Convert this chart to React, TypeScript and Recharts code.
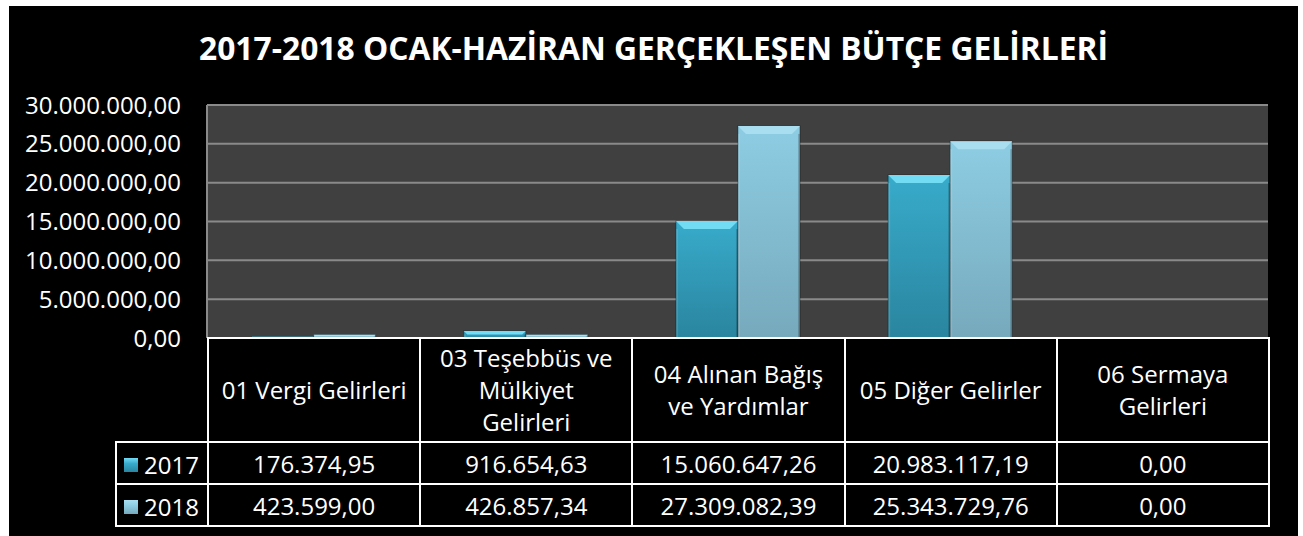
import React from 'react';
import { BarChart, Bar, XAxis, YAxis, CartesianGrid } from 'recharts';

const categories = [
  '01 Vergi Gelirleri',
  '03 Teşebbüs ve Mülkiyet Gelirleri',
  '04 Alınan Bağış ve Yardımlar',
  '05 Diğer Gelirler',
  '06 Sermaya Gelirleri',
];
// header labels as they wrap in the table
const categoryLabels = [
  '01 Vergi Gelirleri',
  '03 Teşebbüs ve\nMülkiyet\nGelirleri',
  '04 Alınan Bağış\nve Yardımlar',
  '05 Diğer Gelirler',
  '06 Sermaya\nGelirleri',
];
const values2017 = [176374.95, 916654.63, 15060647.26, 20983117.19, 0];
const values2018 = [423599.0, 426857.34, 27309082.39, 25343729.76, 0];
const yTicks = [0, 5000000, 10000000, 15000000, 20000000, 25000000, 30000000];
const seriesNames = ['2017', '2018'];

const FONT = '"Open Sans", sans-serif';

// Turkish style number: 1.234.567,89
const fmt = (v: number) => {
  const [int, dec] = v.toFixed(2).split('.');
  return int.replace(/\B(?=(\d{3})+(?!\d))/g, '.') + ',' + dec;
};

const data = categories.map((name, i) => ({
  name,
  y2017: values2017[i],
  y2018: values2018[i],
}));

const palette = {
  y2017: { top: '#72dcf5', from: '#38abcb', to: '#2a859f', id: 'g2017' },
  y2018: { top: '#a9def0', from: '#8dcde3', to: '#77a9bc', id: 'g2018' },
};

const BevelBar = (props: any) => {
  const { x, y, width, height, colors } = props;
  if (!height || height <= 0) return null;
  const b = Math.min(8, height / 2);
  return (
    <g>
      <rect x={x} y={y} width={width} height={height} fill={`url(#${colors.id})`} stroke="rgba(0,0,0,0.35)" strokeWidth={1} />
      <polygon
        points={`${x},${y} ${x + width},${y} ${x + width - b},${y + b} ${x + b},${y + b}`}
        fill={colors.top}
      />
      <rect x={x} y={y + b} width={2} height={Math.max(0, height - b)} fill="rgba(255,255,255,0.12)" />
      <rect x={x + width - 2} y={y + b} width={2} height={Math.max(0, height - b)} fill="rgba(0,0,0,0.18)" />
    </g>
  );
};

const LegendKey = ({ colors }: { colors: any }) => (
  <span
    style={{
      display: 'inline-block',
      width: 14,
      height: 14,
      marginRight: 6,
      verticalAlign: 'middle',
      background: `linear-gradient(${colors.top} 0%, ${colors.from} 40%, ${colors.to} 100%)`,
    }}
  />
);

const colW = 212.2;
const cell: React.CSSProperties = {
  border: '2px solid #fff',
  color: '#fff',
  textAlign: 'center',
  fontFamily: FONT,
  fontSize: 24,
  padding: '0 4px',
  whiteSpace: 'pre-line',
};

export default function App() {
  return (
    <div
      style={{
        position: 'absolute',
        left: 9,
        top: 6,
        width: 1289,
        height: 530,
        background: '#000',
        overflow: 'hidden',
      }}
    >
      <div
        style={{
          position: 'absolute',
          left: 0,
          top: 22,
          width: '100%',
          textAlign: 'center',
          color: '#fff',
          fontFamily: FONT,
          fontWeight: 700,
          fontSize: 31.8,
          lineHeight: '40px',
        }}
      >
        2017-2018 OCAK-HAZİRAN GERÇEKLEŞEN BÜTÇE GELİRLERİ
      </div>
      <BarChart
        width={1289}
        height={530}
        data={data}
        margin={{ top: 99, right: 30, bottom: 198, left: 0 }}
        barCategoryGap="21%"
        barGap={0}
        style={{ position: 'absolute', left: 0, top: 0 }}
      >
        <defs>
          {Object.values(palette).map((c) => (
            <linearGradient key={c.id} id={c.id} x1="0" y1="0" x2="0" y2="1">
              <stop offset="0%" stopColor={c.from} />
              <stop offset="100%" stopColor={c.to} />
            </linearGradient>
          ))}
        </defs>
        <CartesianGrid fill="#404040" stroke="#8a8a8a" strokeWidth={2} vertical={false} />
        <XAxis dataKey="name" hide />
        <YAxis
          width={198}
          domain={[0, 30000000]}
          ticks={yTicks}
          tickFormatter={fmt}
          tickLine={false}
          tickSize={0}
          tickMargin={26}
          axisLine={{ stroke: '#8a8a8a', strokeWidth: 2 }}
          tick={{ fill: '#fff', fontSize: 24, fontFamily: FONT }}
          interval={0}
        />
        <Bar dataKey="y2017" name={seriesNames[0]} isAnimationActive={false} shape={(p: any) => <BevelBar {...p} colors={palette.y2017} />} />
        <Bar dataKey="y2018" name={seriesNames[1]} isAnimationActive={false} shape={(p: any) => <BevelBar {...p} colors={palette.y2018} />} />
      </BarChart>
      <table
        style={{
          position: 'absolute',
          left: 106,
          top: 331,
          borderCollapse: 'collapse',
          tableLayout: 'fixed',
          width: 92 + colW * 5,
        }}
      >
        <colgroup>
          <col style={{ width: 92 }} />
          {categories.map((c) => (
            <col key={c} style={{ width: colW }} />
          ))}
        </colgroup>
        <tbody>
          <tr style={{ height: 104 }}>
            <td style={{ ...cell, borderTopStyle: 'hidden', borderLeftStyle: 'hidden' }} />
            {categoryLabels.map((c) => (
              <td key={c} style={{ ...cell, lineHeight: '32px' }}>
                {c}
              </td>
            ))}
          </tr>
          {[values2017, values2018].map((vals, r) => (
            <tr key={r} style={{ height: 42 }}>
              <td style={{ ...cell, textAlign: 'left', padding: '0 0 0 7px', whiteSpace: 'nowrap' }}>
                <LegendKey colors={r === 0 ? palette.y2017 : palette.y2018} />
                <span style={{ verticalAlign: 'middle' }}>{seriesNames[r]}</span>
              </td>
              {vals.map((v, i) => (
                <td key={i} style={cell}>
                  {fmt(v)}
                </td>
              ))}
            </tr>
          ))}
        </tbody>
      </table>
    </div>
  );
}
